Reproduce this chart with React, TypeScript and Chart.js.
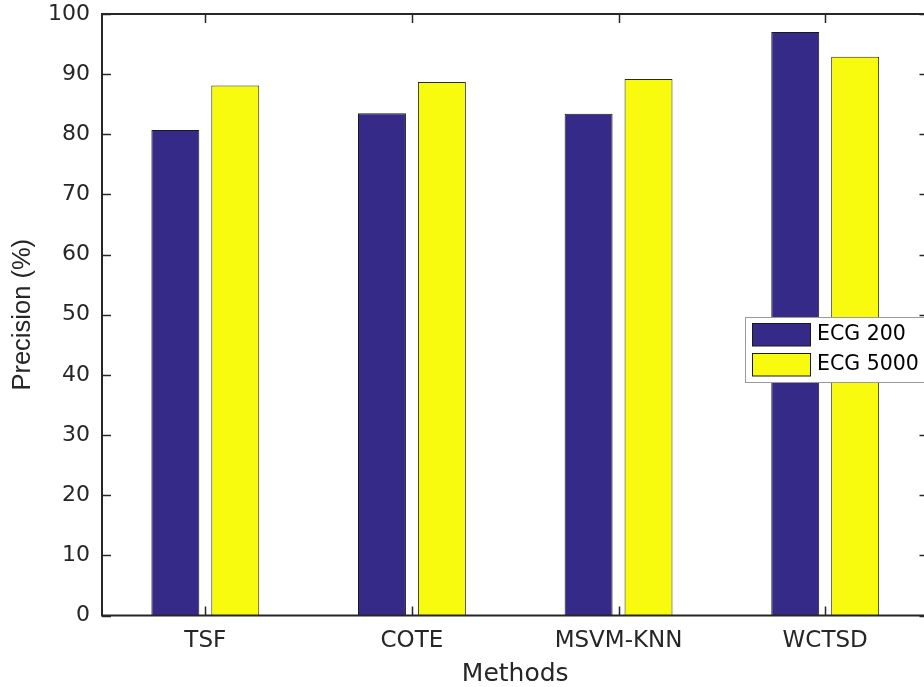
import React, { useEffect, useRef } from "react";
import { Chart, registerables } from "chart.js";

Chart.register(...registerables);

const categories = ["TSF", "COTE", "MSVM-KNN", "WCTSD"];
const ecg200 = [80.7, 83.5, 83.4, 97.0];
const ecg5000 = [88.1, 88.7, 89.2, 92.9];
const seriesLabels = ["ECG 200", "ECG 5000"];
const seriesColors = ["#352a87", "#f9fb0e"];
const yTicks = [0, 10, 20, 30, 40, 50, 60, 70, 80, 90, 100];
const yTitle = "Precision (%)";
const xTitle = "Methods";

const FONT = "'DejaVu Sans', sans-serif";
const AXIS = "#262626";

const framePlugin = {
  id: "frame",
  afterDatasetsDraw(chart: any) {
    const { ctx, chartArea } = chart;
    const { left, right, top, bottom } = chartArea;
    const ys = chart.scales.y;
    const xs = chart.scales.x;
    ctx.save();
    ctx.strokeStyle = AXIS;
    ctx.lineWidth = 1.5;
    const L = 9;
    ctx.beginPath();
    yTicks.forEach((v) => {
      const y = Math.round(ys.getPixelForValue(v)) + 0.5;
      ctx.moveTo(left, y);
      ctx.lineTo(left + L, y);
      ctx.moveTo(right, y);
      ctx.lineTo(right - L, y);
    });
    categories.forEach((_c, i) => {
      const x = Math.round(xs.getPixelForValue(i)) + 0.5;
      ctx.moveTo(x, bottom);
      ctx.lineTo(x, bottom - L);
      ctx.moveTo(x, top);
      ctx.lineTo(x, top + L);
    });
    ctx.stroke();
    ctx.lineWidth = 2;
    ctx.strokeRect(left, top, right - left, bottom - top);
    ctx.restore();
  },
  afterDraw(chart: any) {
    const { ctx } = chart;
    const ds = chart.data.datasets;
    ctx.save();
    const bx = 745, by = 317, bw = 200, bh = 65;
    ctx.fillStyle = "#ffffff";
    ctx.fillRect(bx, by, bw, bh);
    ctx.strokeStyle = "#9a9a9a";
    ctx.lineWidth = 1;
    ctx.strokeRect(bx + 0.5, by + 0.5, bw, bh);
    ds.forEach((d: any, i: number) => {
      const sy = 323.5 + i * 30;
      ctx.fillStyle = d.backgroundColor;
      ctx.fillRect(752.5, sy, 58, 22.5);
      ctx.strokeStyle = "#1a1a1a";
      ctx.lineWidth = 1;
      ctx.strokeRect(752.5, sy, 58, 22.5);
      ctx.fillStyle = "#000000";
      ctx.font = "20.5px " + FONT;
      ctx.textBaseline = "middle";
      ctx.textAlign = "left";
      ctx.fillText(d.label, 817, sy + 11.5);
    });
    ctx.restore();
  },
};

export default function App() {
  const ref = useRef<HTMLCanvasElement>(null);
  useEffect(() => {
    const canvas = ref.current!;
    const chart = new Chart(canvas, {
      type: "bar",
      data: {
        labels: categories,
        datasets: [
          {
            label: seriesLabels[0],
            data: ecg200,
            backgroundColor: seriesColors[0],
            borderColor: "#1a1a1a",
            borderWidth: 1,
            categoryPercentage: 0.58,
            barPercentage: 0.8,
          },
          {
            label: seriesLabels[1],
            data: ecg5000,
            backgroundColor: seriesColors[1],
            borderColor: "#2a2a10",
            borderWidth: 1,
            categoryPercentage: 0.58,
            barPercentage: 0.8,
          },
        ],
      },
      options: {
        responsive: false,
        animation: false,
        devicePixelRatio: 1,
        layout: { padding: { left: 0, top: 14, right: 1.5, bottom: 0 } },
        plugins: { legend: { display: false }, tooltip: { enabled: false } },
        scales: {
          x: {
            grid: { display: false, drawTicks: false },
            border: { display: false },
            ticks: {
              color: AXIS,
              font: { family: FONT, size: 23 },
              padding: 12,
              maxRotation: 0,
            },
            title: {
              display: true,
              text: xTitle,
              color: AXIS,
              font: { family: FONT, size: 25, lineHeight: 1 },
              padding: 0.5,
            },
            afterFit(scale: any) {
              scale.height = 71.5;
              scale.paddingLeft = 0;
              scale.paddingRight = 0;
            },
          },
          y: {
            min: 0,
            max: 100,
            grid: { display: false, drawTicks: false },
            border: { display: false },
            afterBuildTicks(scale: any) {
              scale.ticks = yTicks.map((v) => ({ value: v }));
            },
            ticks: {
              color: AXIS,
              font: { family: FONT, size: 22 },
              padding: 12,
            },
            title: {
              display: true,
              text: yTitle,
              color: AXIS,
              font: { family: "'Liberation Sans', Arial, sans-serif", size: 25.5, lineHeight: 1 },
              padding: 10,
            },
            afterFit(scale: any) {
              scale.width = 102;
              scale.paddingTop = 0;
              scale.paddingBottom = 0;
            },
          },
        },
      },
      plugins: [framePlugin],
    });
    return () => chart.destroy();
  }, []);
  return (
    <div
      style={{
        position: "fixed",
        left: 0,
        top: 0,
        width: 924,
        height: 687,
        overflow: "hidden",
        background: "#ffffff",
      }}
    >
      <canvas ref={ref} width={930} height={687} style={{ width: 930, height: 687, display: "block" }} />
    </div>
  );
}
